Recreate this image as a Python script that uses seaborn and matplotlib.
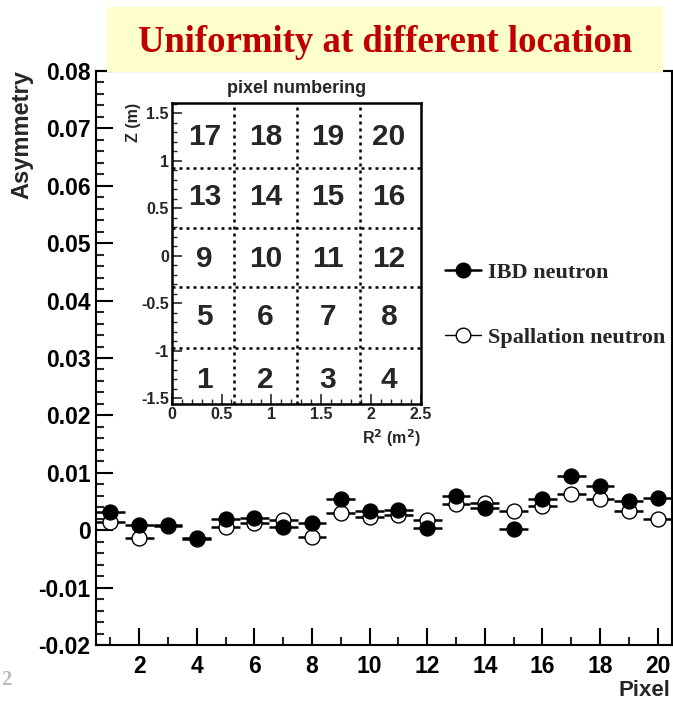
import numpy as np
import pandas as pd
import matplotlib
matplotlib.use("Agg")
import matplotlib.pyplot as plt
from matplotlib.lines import Line2D
from matplotlib.patches import Rectangle
from matplotlib.ticker import MultipleLocator
import seaborn as sns

# ---- data -------------------------------------------------------------
pixels = list(range(1, 21))
ibd_asym = [0.0031, 0.0009, 0.0009, -0.0013, 0.0020, 0.0021, 0.0006, 0.0013,
            0.0054, 0.0033, 0.0035, 0.0004, 0.0060, 0.0039, 0.0002, 0.0054,
            0.0095, 0.0077, 0.0050, 0.0056]
spall_asym = [0.0015, -0.0013, 0.0008, -0.0015, 0.0006, 0.0013, 0.0017, -0.0012,
              0.0030, 0.0023, 0.0027, 0.0017, 0.0045, 0.0048, 0.0033, 0.0042,
              0.0063, 0.0055, 0.0034, 0.0019]
pixel_halfwidth = 0.5

series_names = ["IBD neutron", "Spallation neutron"]
title_text = "Uniformity at different location"

# pixel map (R^2, Z) bins
r2_edges = [0.63, 1.26, 1.89]
z_edges = [-0.97, -0.33, 0.29, 0.93]
r2_centers = [0.33, 0.94, 1.57, 2.18]
z_centers = [-1.31, -0.64, -0.03, 0.62, 1.25]

# ---- style ------------------------------------------------------------
sns.set_theme(style="white")
plt.rcParams["font.family"] = ["Liberation Sans", "DejaVu Sans"]
plt.rcParams["font.weight"] = "bold"

fig = plt.figure(figsize=(6.73, 7.02), dpi=100)
ax = fig.add_axes([96 / 673, 1 - 645 / 702, 576 / 673, 574 / 702])

df = pd.DataFrame({
    "pixel": pixels * 2,
    "asym": ibd_asym + spall_asym,
    "sample": [series_names[0]] * 20 + [series_names[1]] * 20,
})

# horizontal bars spanning each pixel bin
for vals in [spall_asym, ibd_asym]:
    x = np.array(pixels, dtype=float)
    ax.hlines(vals, x - pixel_halfwidth, x + pixel_halfwidth,
              color="black", lw=1.8, zorder=2)

spall = df[df["sample"] == series_names[1]]
ibd = df[df["sample"] == series_names[0]]
sns.scatterplot(data=spall, x="pixel", y="asym", ax=ax, marker="o", s=115,
                facecolor="white", edgecolor="black", linewidth=1.0, zorder=3,
                legend=False)
sns.scatterplot(data=ibd, x="pixel", y="asym", ax=ax, marker="o", s=115,
                color="black", edgecolor="black", linewidth=1.0, zorder=4,
                legend=False)

ax.set_xlim(0.5, 20.5)
ax.set_ylim(-0.02, 0.08)
ax.xaxis.set_major_locator(MultipleLocator(2))
ax.xaxis.set_minor_locator(MultipleLocator(1))
ax.yaxis.set_major_locator(MultipleLocator(0.01))
ax.yaxis.set_minor_locator(MultipleLocator(0.002))
ax.yaxis.set_major_formatter(plt.FuncFormatter(lambda v, p: f"{v:g}"))
ax.tick_params(axis="both", which="major", direction="in", length=12, width=1.5,
               labelsize=16.5, colors="black")
ax.tick_params(axis="both", which="minor", direction="in", length=6, width=1.5)
ax.tick_params(top=False, right=False, which="both", bottom=True, left=True)
ax.tick_params(axis="x", pad=7)
ax.tick_params(axis="y", pad=4)
for s in ax.spines.values():
    s.set_linewidth(1.5)
    s.set_color("black")
ax.set_xlabel("")
ax.set_ylabel("")
fig.text(22 / 673, 1 - 70 / 702, "Asymmetry", rotation=90, ha="center",
         va="top", fontsize=17, fontweight="bold")
fig.text(670 / 673, 1 - 690 / 702, "Pixel", ha="right", va="center",
         fontsize=16, fontweight="bold")

# legend
handles = [
    Line2D([0], [0], color="black", lw=1.8, marker="o", markersize=10.5,
           markerfacecolor="black", markeredgecolor="black"),
    Line2D([0], [0], color="black", lw=1.0, marker="o", markersize=10.5,
           markerfacecolor="white", markeredgecolor="black"),
]
leg = ax.legend(handles, series_names, loc="center left",
                bbox_to_anchor=(0.572, 0.592), frameon=False, handlelength=1.6,
                labelspacing=2.0, handletextpad=0.3,
                prop={"family": "Liberation Serif", "weight": "bold", "size": 16})

# title banner
fig.patches.append(Rectangle((107 / 673, 1 - 72 / 702), 556 / 673, 65 / 702,
                             transform=fig.transFigure, facecolor="#FFFFCC",
                             edgecolor="none", zorder=5))
fig.text(385 / 673, 1 - 42 / 702, title_text, ha="center", va="center",
         fontsize=26.5, fontweight="bold", color="#C00000",
         family="Liberation Serif", zorder=6)

# ---- inset: pixel numbering --------------------------------------------
ins = fig.add_axes([171.7 / 673, 1 - 404 / 702, 249 / 673, 301 / 702])
ins.set_xlim(0, 2.5)
ins.set_ylim(-1.56, 1.61)
for e in r2_edges:
    ins.axvline(e, color="black", lw=1.8, ls=(0, (1.2, 1.6)))
for e in z_edges:
    ins.axhline(e, color="black", lw=1.8, ls=(0, (1.2, 1.6)))
k = 1
for zc in z_centers:
    for rc in r2_centers:
        ins.text(rc, zc, str(k), ha="center", va="center", fontsize=21.5,
                 fontweight="bold")
        k += 1
ins.xaxis.set_major_locator(MultipleLocator(0.5))
ins.xaxis.set_minor_locator(MultipleLocator(0.1))
ins.yaxis.set_major_locator(MultipleLocator(0.5))
ins.yaxis.set_minor_locator(MultipleLocator(0.1))
fmt = plt.FuncFormatter(lambda v, p: f"{v:g}")
ins.xaxis.set_major_formatter(fmt)
ins.yaxis.set_major_formatter(fmt)
ins.tick_params(axis="both", which="major", direction="in", length=7, width=1.2,
                labelsize=11.5, pad=2)
ins.tick_params(axis="both", which="minor", direction="in", length=3.5, width=1.0)
ins.tick_params(top=False, right=False, which="both", bottom=True, left=True)
for s in ins.spines.values():
    s.set_linewidth(1.8)
    s.set_color("black")
ins.set_title("pixel numbering", fontsize=13, fontweight="bold", pad=7)
ins.set_xlabel("R$^{\\mathbf{2}}$ (m$^{\\mathbf{2}}$)", fontsize=11.5,
               fontweight="bold", loc="right", labelpad=4)
ins.set_ylabel("Z (m)", fontsize=11.5, fontweight="bold", loc="top", labelpad=0)

# page number at the slide edge
fig.text(1 / 673, 1 - 680 / 702, "2", ha="left", va="center", fontsize=15,
         color="#BBBBBB", family="Liberation Serif")

fig.savefig("out.png", dpi=100)
